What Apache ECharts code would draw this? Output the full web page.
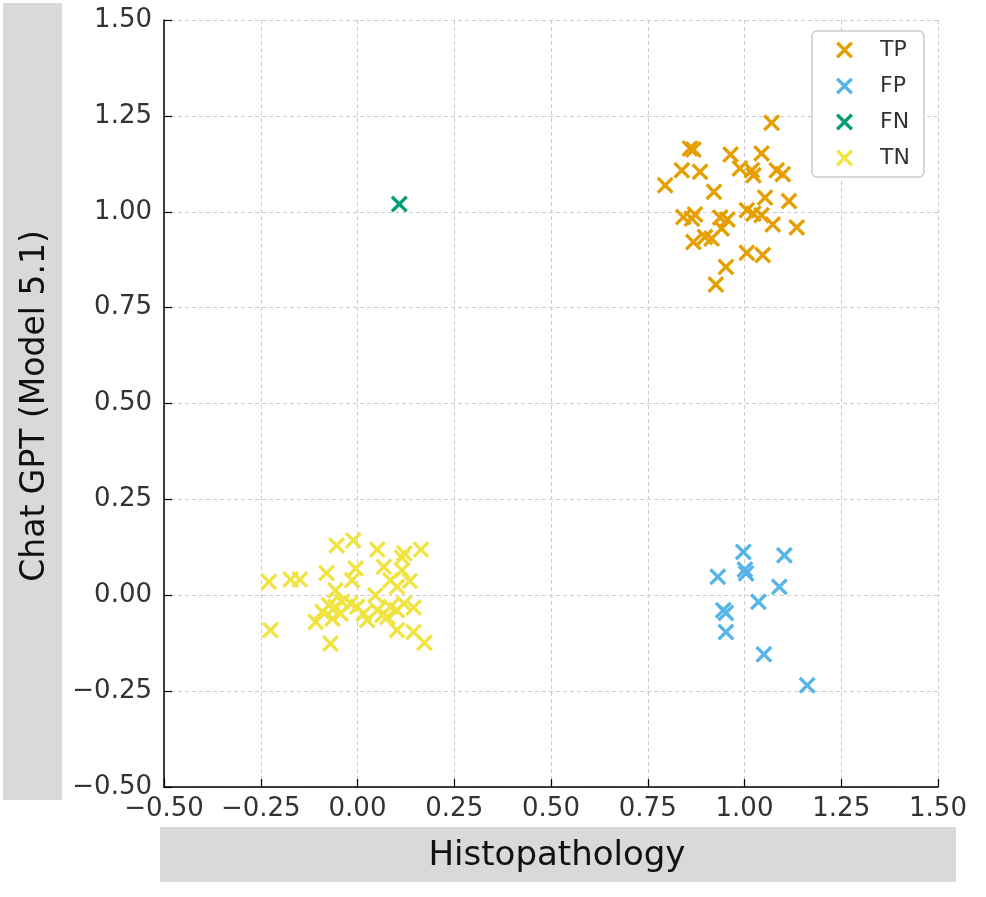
<!DOCTYPE html>
<html>
<head>
<meta charset="utf-8">
<script src="https://cdn.jsdelivr.net/npm/echarts@6/dist/echarts.min.js"></script>
<style>html,body{margin:0;padding:0;background:#fff}#c{width:986px;height:897px}</style>
</head>
<body>
<div id="c"></div>
<script>
// ---- data ----
const seriesNames = ['TP', 'FP', 'FN', 'TN'];
const seriesColors = ['#E69F00', '#56B4E9', '#009E73', '#F0E442'];
const xTicks = ['-0.50','-0.25','0.00','0.25','0.50','0.75','1.00','1.25','1.50'];
const yTicks = ['-0.50','-0.25','0.00','0.25','0.50','0.75','1.00','1.25','1.50'];
const xAxisTitle = 'Histopathology';
const yAxisTitle = 'Chat GPT (Model 5.1)';

const tpPoints = [
  [1.070, 1.232], [0.859, 1.165], [0.868, 1.162], [0.964, 1.149], [1.044, 1.152],
  [0.838, 1.108], [0.885, 1.104], [0.795, 1.069], [0.988, 1.113], [1.019, 1.108],
  [1.023, 1.095], [1.083, 1.108], [1.099, 1.098], [0.921, 1.052], [1.053, 1.037],
  [1.115, 1.028], [0.842, 0.986], [0.872, 0.993], [0.864, 0.982], [0.937, 0.985],
  [0.956, 0.980], [1.006, 1.004], [1.023, 0.995], [1.044, 0.991], [1.073, 0.967],
  [1.135, 0.959], [0.868, 0.921], [0.898, 0.934], [0.915, 0.930], [0.941, 0.956],
  [1.006, 0.893], [1.047, 0.887], [0.952, 0.856], [0.926, 0.810]
];
const fpPoints = [
  [0.997, 0.113], [1.103, 0.104], [0.931, 0.048], [1.001, 0.067], [1.004, 0.057],
  [1.090, 0.022], [1.036, -0.017], [0.945, -0.039], [0.952, -0.046], [0.952, -0.096],
  [1.050, -0.154], [1.162, -0.235]
];
const fnPoints = [
  [0.108, 1.020]
];
const tnPoints = [
  [-0.054, 0.130], [-0.011, 0.143], [0.051, 0.119], [0.121, 0.109], [0.164, 0.119],
  [0.115, 0.098], [-0.229, 0.035], [-0.173, 0.041], [-0.149, 0.041], [-0.080, 0.058],
  [-0.005, 0.070], [-0.014, 0.039], [0.068, 0.074], [0.115, 0.065], [0.085, 0.039],
  [0.135, 0.037], [0.102, 0.022], [-0.057, 0.013], [0.046, 0.000], [-0.225, -0.091],
  [-0.070, -0.126], [-0.108, -0.070], [-0.091, -0.043], [-0.074, -0.026], [-0.057, -0.030],
  [-0.044, -0.048], [-0.065, -0.061], [-0.018, -0.022], [-0.001, -0.030], [0.016, -0.048],
  [0.025, -0.065], [0.051, -0.039], [0.064, -0.052], [0.085, -0.030], [0.102, -0.039],
  [0.145, -0.032], [0.102, -0.091], [0.145, -0.096], [0.173, -0.124], [-0.040, -0.017],
  [0.077, -0.057], [0.120, -0.022]
];
const allPoints = [tpPoints, fpPoints, fnPoints, tnPoints];

// ---- rendering ----
const h = 14;
const X_PATH = 'path://M' + h + ',0 L50,' + (50 - h) + ' L' + (100 - h) + ',0 L100,' + h +
  ' L' + (50 + h) + ',50 L100,' + (100 - h) + ' L' + (100 - h) + ',100 L50,' + (50 + h) +
  ' L' + h + ',100 L0,' + (100 - h) + ' L' + (50 - h) + ',50 L0,' + h + ' Z';

const chart = echarts.init(document.getElementById('c'), null, {renderer: 'canvas'});
const FONT = '"DejaVu Sans", sans-serif';
const gridLine = {show: true, lineStyle: {color: '#cccccc', type: [4, 3], width: 1}};

chart.setOption({
  backgroundColor: '#ffffff',
  animation: false,
  grid: {left: 164, right: 48, top: 20, bottom: 110},
  legend: {
    orient: 'vertical',
    left: 812, top: 31,
    data: seriesNames,
    icon: X_PATH,
    itemWidth: 17, itemHeight: 17, itemGap: 14,
    padding: [8, 14, 8, 24],
    borderColor: '#cccccc', borderWidth: 1.5, borderRadius: 5,
    backgroundColor: '#ffffff',
    textStyle: {fontFamily: FONT, fontSize: 22, color: '#333333', padding: [0, 0, 0, 22]}
  },
  xAxis: {
    type: 'value', min: -0.5, max: 1.5, interval: 0.25,
    axisLine: {show: true, onZero: false, lineStyle: {color: '#000', width: 1.5}},
    axisTick: {show: true, inside: true, length: 8, lineStyle: {color: '#000', width: 1.2}},
    axisLabel: {
      margin: 9, fontFamily: FONT, fontSize: 26, color: '#333333',
      formatter: (v) => { const i = Math.round((v + 0.5) / 0.25); return (xTicks[i] || '').replace('-', '\u2212'); }
    },
    splitLine: gridLine
  },
  yAxis: {
    type: 'value', min: -0.5, max: 1.5, interval: 0.25,
    axisLine: {show: true, onZero: false, lineStyle: {color: '#000', width: 1.5}},
    axisTick: {show: true, inside: true, length: 8, lineStyle: {color: '#000', width: 1.2}},
    axisLabel: {
      margin: 12, fontFamily: FONT, fontSize: 26, color: '#333333',
      formatter: (v) => { const i = Math.round((v + 0.5) / 0.25); return (yTicks[i] || '').replace('-', '\u2212'); }
    },
    splitLine: gridLine
  },
  graphic: [
    {type: 'rect', left: 3, top: 3, z: -10, shape: {width: 59, height: 797}, style: {fill: '#d9d9d9'}},
    {type: 'rect', left: 160, top: 827, z: -10, shape: {width: 796, height: 55}, style: {fill: '#d9d9d9'}},
    {type: 'text', x: 35, y: 406, rotation: Math.PI / 2,
      style: {text: yAxisTitle, font: '33px ' + FONT, fill: '#111111', textAlign: 'center', textVerticalAlign: 'middle'}},
    {type: 'text', x: 557, y: 856,
      style: {text: xAxisTitle, font: '34px ' + FONT, fill: '#111111', textAlign: 'center', textVerticalAlign: 'middle'}}
  ],
  series: seriesNames.map((name, i) => ({
    name: name,
    type: 'scatter',
    symbol: X_PATH,
    symbolSize: 17,
    itemStyle: {color: seriesColors[i], opacity: 1},
    data: allPoints[i]
  }))
});
</script>
</body>
</html>
